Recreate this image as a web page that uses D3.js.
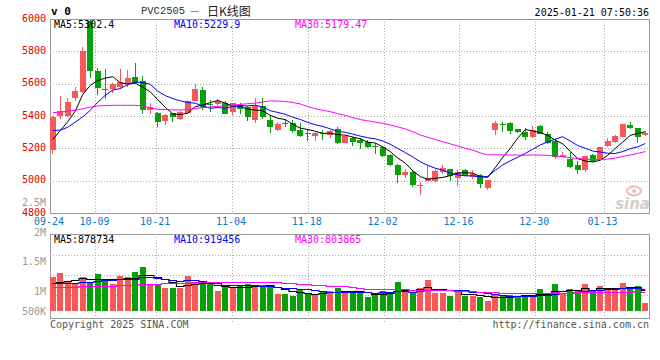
<!DOCTYPE html>
<html><head><meta charset="utf-8">
<script src="https://cdn.jsdelivr.net/npm/d3@7"></script>
<style>body{margin:0;background:#fff}svg{display:block}</style>
</head><body><svg id="c" width="660" height="360"></svg>
<script>
// ---------- data ----------
const dates = ["09-24","09-25","09-26","09-27","09-30","10-08","10-09","10-10","10-11","10-14","10-15","10-16","10-17","10-18","10-21","10-22","10-23","10-24","10-25","10-28","10-29","10-30","10-31","11-01","11-04","11-05","11-06","11-07","11-08","11-11","11-12","11-13","11-14","11-15","11-18","11-19","11-20","11-21","11-22","11-25","11-26","11-27","11-28","11-29","12-02","12-03","12-04","12-05","12-06","12-09","12-10","12-11","12-12","12-13","12-16","12-17","12-18","12-19","12-20","12-23","12-24","12-25","12-26","12-27","12-30","12-31","01-02","01-03","01-06","01-07","01-08","01-09","01-10","01-13","01-14","01-15","01-16","01-17","01-20","01-21"];
const opens  = [5190,5398,5400,5509,5550,5988,5678,5570,5570,5582,5599,5640,5617,5440,5420,5368,5418,5381,5420,5495,5560,5476,5474,5478,5425,5468,5457,5375,5461,5375,5314,5357,5355,5314,5295,5277,5295,5281,5318,5236,5263,5249,5237,5214,5206,5161,5100,5035,5053,4970,4998,4998,5053,5070,5018,5063,5023,5033,4957,5314,5353,5359,5318,5298,5269,5339,5290,5243,5147,5135,5094,5069,5161,5137,5212,5237,5273,5345,5325,5280];
const highs  = [5398,5526,5510,5580,5826,5995,5694,5688,5605,5692,5682,5730,5648,5481,5425,5410,5420,5428,5500,5597,5580,5500,5503,5490,5482,5482,5462,5509,5509,5406,5360,5380,5375,5355,5318,5300,5314,5312,5334,5280,5273,5263,5253,5233,5216,5163,5104,5070,5059,4992,5100,5070,5094,5072,5065,5074,5063,5039,5006,5367,5365,5361,5320,5325,5339,5345,5298,5257,5178,5176,5120,5153,5163,5210,5263,5284,5353,5365,5327,5306];
const lows   = [5167,5384,5395,5495,5540,5635,5532,5505,5542,5570,5582,5600,5410,5410,5333,5345,5365,5375,5415,5490,5440,5427,5468,5410,5405,5412,5371,5355,5380,5293,5308,5334,5297,5273,5248,5248,5250,5261,5224,5230,5216,5198,5202,5167,5147,5092,4988,5016,4963,4910,4995,4992,5039,4998,4967,5027,5008,4957,4943,5284,5304,5290,5296,5253,5267,5288,5228,5135,5145,5080,5043,5053,5118,5131,5208,5235,5271,5318,5233,5276];
const closes = [5395,5428,5489,5556,5799,5676,5576,5566,5600,5611,5635,5605,5440,5457,5365,5405,5395,5425,5495,5570,5453,5472,5490,5412,5478,5441,5392,5461,5392,5334,5351,5353,5310,5277,5291,5297,5290,5310,5236,5275,5239,5233,5208,5210,5155,5094,5033,5053,4972,4974,5014,5059,5080,5029,5053,5029,5039,4978,5004,5355,5349,5310,5298,5269,5315,5290,5230,5147,5157,5086,5065,5151,5120,5208,5243,5274,5349,5325,5272,5292];
const volumes = [1440000,1610000,1230000,1160000,1440000,1230000,1550000,1300000,1130000,1470000,1440000,1650000,1860000,1130000,1090000,980000,980000,980000,1470000,1230000,1120000,1120000,840000,1020000,1020000,1090000,1130000,1020000,1090000,1060000,710000,710000,640000,880000,740000,670000,840000,840000,980000,840000,740000,740000,600000,740000,840000,810000,1230000,840000,740000,980000,1300000,770000,770000,640000,810000,610000,640000,600000,420000,670000,640000,680000,640000,640000,680000,920000,740000,1130000,710000,920000,880000,1150000,840000,1050000,880000,880000,1160000,980000,1050000,323670];
// moving-average values before enough history is visible
const ma5Head  = [5255,5310,5365,5430];
const ma10Head = [5310,5313,5330,5362,5395,5435,5485,5528,5560];
const ma30Head = [5420,5425,5430,5436,5445,5455,5462,5465,5466,5466,5466,5466,5462,5450,5442,5440,5438,5437,5440,5446,5452,5456,5460,5463,5467,5472,5476,5480,5486];
const vma5Head  = [1160000,1230000,1260000,1280000];
const vma10Head = [1160000,1170000,1180000,1190000,1210000,1230000,1260000,1290000,1320000];
const vma30Head = [995000,1000000,1010000,1020000,1030000,1040000,1060000,1060000,1070000,1080000,1100000,1110000,1130000,1150000,1150000,1160000,1170000,1170000,1190000,1200000,1200000,1210000,1210000,1220000,1210000,1220000,1220000,1230000,1230000];
const priceTicks = [6000,5800,5600,5400,5200,5000,4800];
const priceGrid = [5800,5600,5400,5200,5000];
const volTickLabels = ["2.5M","2M","1.5M","1M","500K"];
const volTickValues = [2500000,2000000,1500000,1000000,500000];
const dateTicks = ["09-24","10-09","10-21","11-04","11-18","12-02","12-16","12-30","01-13"];
const priceMaLabels = ["MA5:5302.4","MA10:5229.9","MA30:5179.47"];
const volMaLabels = ["MA5:878734","MA10:919456","MA30:803865"];
const maColors = ["#000000","#0000ff","#ff00ff"];

// ---------- helpers ----------
function movingAvg(arr, n, head){
  return arr.map((v,i)=> i < n-1 ? head[i] : d3.mean(arr.slice(i-n+1, i+1)));
}
const UP="#f85858", DN="#08a008", GRID="#aaaaaa", BOX="#999999";
const mono = "DejaVu Sans Mono, monospace";

const svg = d3.select("#c");
const L=50, R=649, PT=19, PB=213, VT=234, VB=317.7;
const idx = d3.range(dates.length);

const x = d3.scaleBand().domain(idx).range([49,649]).paddingInner(0.2).paddingOuter(0.1);
const xc = i => x(i) + x.bandwidth()/2;
const xGrid = d3.scaleLinear().domain([0, dates.length-1]).range([L, R]);
const yP = d3.scaleLinear().domain([4800,6000]).range([PB, PT]);
const yV = d3.scaleLinear().domain([0,1000000]).range([311, 311-23.83]);
const yVLab = d3.scaleLinear().domain([1000000,2000000]).range([291,232]);
const yVGrid = d3.scaleLinear().domain([0,4]).range([235,315]);

const up = i => closes[i] >= opens[i];

// ---------- grid ----------
const g = svg.append("g").attr("shape-rendering","crispEdges");
g.selectAll(".hp").data(priceGrid).join("line")
  .attr("x1",L).attr("x2",R).attr("y1",d=>Math.round(yP(d))+0.5).attr("y2",d=>Math.round(yP(d))+0.5)
  .attr("stroke",GRID).attr("stroke-dasharray","1,2");
g.selectAll(".hv").data([1,2,3]).join("line")
  .attr("x1",L).attr("x2",R).attr("y1",d=>Math.round(yVGrid(d))+0.5).attr("y2",d=>Math.round(yVGrid(d))+0.5)
  .attr("stroke",GRID).attr("stroke-dasharray","1,2");
const dIdx = dateTicks.map(d=>dates.indexOf(d));
g.selectAll(".vp").data(dIdx.slice(1)).join("line")
  .attr("x1",d=>Math.round(xGrid(d))+0.5).attr("x2",d=>Math.round(xGrid(d))+0.5)
  .attr("y1",PT).attr("y2",PB).attr("stroke",GRID).attr("stroke-dasharray","1,2");
g.selectAll(".vv").data(dIdx.slice(1)).join("line")
  .attr("x1",d=>Math.round(xGrid(d))+0.5).attr("x2",d=>Math.round(xGrid(d))+0.5)
  .attr("y1",VT).attr("y2",VB+4).attr("stroke",GRID).attr("stroke-dasharray","1,2");
// boxes
g.append("rect").attr("x",L+0.5).attr("y",PT+0.5).attr("width",R-L).attr("height",PB-PT)
  .attr("fill","none").attr("stroke",BOX);
g.append("rect").attr("x",L+0.5).attr("y",VT+0.5).attr("width",R-L).attr("height",VB-VT)
  .attr("fill","none").attr("stroke",BOX);

// watermark
const wm = svg.append("g");
wm.append("ellipse").attr("cx",634).attr("cy",191).attr("rx",7).attr("ry",4.5).attr("fill","none").attr("stroke","#f2b8b8").attr("stroke-width",2);
wm.append("circle").attr("cx",634).attr("cy",191).attr("r",2).attr("fill","#f2b8b8");
wm.append("text").attr("x",650).attr("y",209).attr("text-anchor","end")
  .attr("font-family","DejaVu Sans, sans-serif").attr("font-weight","bold").attr("font-style","italic")
  .attr("font-size",15).attr("fill","#d6cccc").text("sina");

// ---------- candles ----------
const cg = svg.append("g").attr("shape-rendering","crispEdges");
cg.selectAll(".wick").data(idx).join("line")
  .attr("x1",i=>Math.floor(xc(i))+0.5).attr("x2",i=>Math.floor(xc(i))+0.5)
  .attr("y1",i=>yP(highs[i])).attr("y2",i=>yP(lows[i]))
  .attr("stroke",i=>up(i)?UP:DN);
cg.selectAll(".body").data(idx).join("rect")
  .attr("x",i=>Math.round(x(i))).attr("width",Math.round(x.bandwidth()))
  .attr("y",i=>yP(Math.max(opens[i],closes[i])))
  .attr("height",i=>Math.max(1,Math.abs(yP(opens[i])-yP(closes[i]))))
  .attr("fill",i=>up(i)?UP:DN);

// ---------- volume bars ----------
cg.selectAll(".vol").data(idx).join("rect")
  .attr("x",i=>Math.round(x(i))).attr("width",Math.round(x.bandwidth()))
  .attr("y",i=>yV(volumes[i])).attr("height",i=>yV(0)-yV(volumes[i]))
  .attr("fill",i=>up(i)?UP:DN);

// ---------- MA lines ----------
const pMAs = [movingAvg(closes,5,ma5Head), movingAvg(closes,10,ma10Head), movingAvg(closes,30,ma30Head)];
const vMAs = [movingAvg(volumes,5,vma5Head), movingAvg(volumes,10,vma10Head), movingAvg(volumes,30,vma30Head)];
svg.append("clipPath").attr("id","pc").append("rect").attr("x",L+1).attr("y",PT+1).attr("width",R-L-1).attr("height",PB-PT-1);
const lineP = d3.line().x((d,i)=>xc(i)).y(d=>yP(d));
const lineV = d3.line().x((d,i)=>xc(i)).y(d=>Math.round(yV(d))+0.5).curve(d3.curveStep);
svg.append("g").attr("clip-path","url(#pc)").selectAll("path").data(pMAs).join("path")
  .attr("d",lineP).attr("fill","none").attr("stroke",(d,k)=>maColors[k]).attr("stroke-width",1);
svg.append("g").selectAll("path").data(vMAs).join("path")
  .attr("d",lineV).attr("fill","none").attr("stroke",(d,k)=>maColors[k]).attr("stroke-width",1.2);

// ---------- texts ----------
const legendX = [54,174,295];
svg.selectAll(".pl").data(priceMaLabels).join("text")
  .attr("x",(d,k)=>legendX[k]).attr("y",24).attr("dominant-baseline","central")
  .attr("font-family",mono).attr("font-size",10).attr("fill",(d,k)=>maColors[k]).text(d=>d);
svg.selectAll(".vl").data(volMaLabels).join("text")
  .attr("x",(d,k)=>legendX[k]).attr("y",239).attr("dominant-baseline","central")
  .attr("font-family",mono).attr("font-size",10).attr("fill",(d,k)=>maColors[k]).text(d=>d);

svg.selectAll(".pt").data(priceTicks).join("text")
  .attr("x",46).attr("y",d=>Math.max(16, yP(d)-1)).attr("text-anchor","end").attr("dominant-baseline","central")
  .attr("font-family",mono).attr("font-size",10).attr("fill","#e00000").text(d=>d);
svg.selectAll(".vt").data(volTickValues).join("text")
  .attr("x",46).attr("y",d=>Math.min(311, yVLab(d))).attr("text-anchor","end").attr("dominant-baseline","central")
  .attr("font-family",mono).attr("font-size",10).attr("fill","#999999").text((d,k)=>volTickLabels[k]);
svg.selectAll(".dt").data(dIdx).join("text")
  .attr("x",d=>xGrid(d)-1).attr("y",221).attr("text-anchor","middle").attr("dominant-baseline","central")
  .attr("font-family",mono).attr("font-size",10).attr("fill","#0a78c8").text((d,k)=>dateTicks[k]);

svg.append("text").attr("x",51).attr("y",11).attr("dominant-baseline","central")
  .attr("font-family",mono).attr("font-weight","bold").attr("font-size",11).attr("fill","#000").text("v 0");
svg.append("text").attr("x",141).attr("y",11).attr("dominant-baseline","central")
  .attr("font-family","Liberation Mono, monospace").attr("font-size",10.5).attr("fill","#333").text("PVC2505");
svg.append("text").attr("x",190).attr("y",11).attr("dominant-baseline","central")
  .attr("font-family","DejaVu Sans, sans-serif").attr("font-size",9).attr("fill","#333").text("—");
svg.append("text").attr("x",207).attr("y",10.5).attr("dominant-baseline","central")
  .attr("font-family","Noto Sans CJK SC, sans-serif").attr("font-size",12).attr("fill","#222").text("日K线图");
svg.append("text").attr("x",649).attr("y",12).attr("text-anchor","end").attr("dominant-baseline","central")
  .attr("font-family",mono).attr("font-size",10).attr("fill","#000").text("2025-01-21 07:50:36");
svg.append("text").attr("x",50).attr("y",324).attr("dominant-baseline","central")
  .attr("font-family",mono).attr("font-size",10).attr("fill","#555").text("Copyright 2025 SINA.COM");
svg.append("text").attr("x",649).attr("y",324).attr("text-anchor","end").attr("dominant-baseline","central")
  .attr("font-family",mono).attr("font-size",10).attr("fill","#555").text("http://finance.sina.com.cn");
</script>
</body></html>
